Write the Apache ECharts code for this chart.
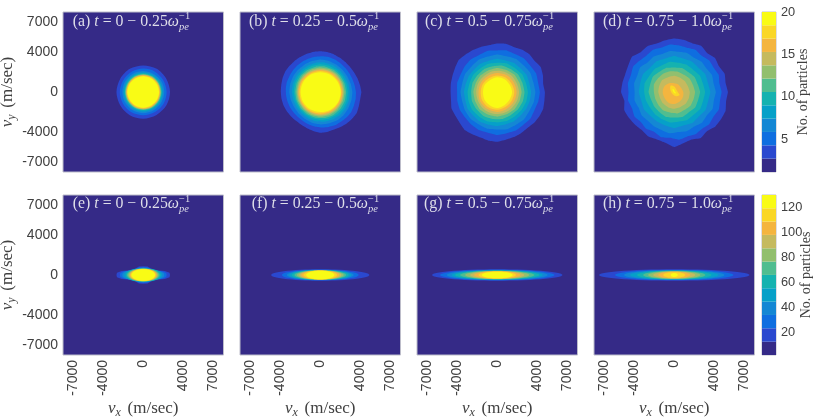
<!DOCTYPE html>
<html><head><meta charset="utf-8">
<style>html,body{margin:0;padding:0;background:#fff}#c{width:814px;height:417px}</style>
<script src="https://cdn.jsdelivr.net/npm/echarts@6/dist/echarts.min.js"></script>
</head><body><div id="c"></div>
<script>
// Tick labels
const velocityTicks = [-7000,-4000,0,4000,7000];
const topBarTicks = [5,10,15,20];
const bottomBarTicks = [20,40,60,80,100,120];
// Panel captions
const captions = [['(a)','0 − 0.25'],['(b)','0.25 − 0.5'],['(c)','0.5 − 0.75'],['(d)','0.75 − 1.0'],
                  ['(e)','0 − 0.25'],['(f)','0.25 − 0.5'],['(g)','0.5 − 0.75'],['(h)','0.75 − 1.0']];
// Colour levels
const parula12 = ['#352a87','#2a48cf','#0f6ee0','#1487d4','#06a0c8','#15b2b0','#50bd90','#92bf6e','#c5ba5e','#f4b53f','#fad726','#f9fb15'];
const topBarEdges = [1.1,2.68,4.25,5.83,7.4,8.98,10.55,12.13,13.7,15.28,16.85,18.43,20];
const bottomBarEdges = [1.5,12.2,23,33.7,44.4,55.2,65.9,76.6,87.3,98.1,108.8,119.5,130.2];

// Top row: radius (m/s) of each contour level, read at evenly spaced angles counter-clockwise from +vx
const contoursA = [
 [2670,2650,2680,2660,2680,2650,2670,2660,2680,2670,2650,2670],
 [2330,2320,2350,2340,2330,2320,2340,2330,2350,2330,2320,2340],
 [2100,2110,2090,2100,2120,2100,2090,2110,2100,2120,2100,2090],
 [1970,1960,1980,1970,1960,1970,1980,1960,1970,1980,1970,1960],
 [1870,1880,1860,1870,1880,1870,1860,1880,1870,1860,1870,1880],
 [1800,1790,1810,1800,1790,1800,1810,1790,1800,1810,1800,1790],
 [1750,1740,1750,1760,1750,1740,1750,1760,1750,1740,1750,1760],
 [1700,1710,1700,1690,1700,1710,1700,1690,1700,1710,1700,1690],
 [1660,1650,1660,1670,1660,1650,1660,1670,1660,1650,1660,1670],
 [1620,1630,1620,1610,1620,1630,1620,1610,1620,1630,1620,1610],
 [1570,1560,1570,1580,1560,1570,1580,1560,1570,1580,1560,1570]
];
const contoursB = [
 [4100,4020,3960,3900,3880,3900,3950,4000,4050,4070,4070,4050,4030,4020,4030,4040,4000,3950,3930,3920,3900,3850,3800,3760,3780,3850,3950,4070,4050,4000,4040,4100,4150,4200,4100,4050],
 [3560,3500,3460,3450,3470,3500,3560,3600,3580,3560,3540,3520,3500,3480,3460,3480,3450,3420,3400,3380,3350,3340,3380,3450,3520,3560,3600,3640,3620,3650,3680,3620,3600],
 [3200,3150,3120,3140,3180,3220,3240,3200,3160,3140,3120,3100,3080,3040,3020,3050,3100,3180,3240,3260,3300,3280,3240,3220],
 [2950,2920,2900,2930,2970,2990,2960,2920,2890,2880,2860,2830,2810,2800,2840,2900,2960,3000,3020,3040,3010,2980],
 [2750,2720,2710,2740,2770,2770,2730,2700,2680,2670,2640,2620,2630,2680,2730,2780,2800,2820,2810,2780],
 [2580,2560,2570,2590,2600,2570,2540,2530,2510,2490,2500,2530,2570,2620,2640,2650,2620,2600],
 [2430,2420,2430,2450,2440,2410,2400,2380,2360,2380,2400,2450,2480,2480,2460,2440],
 [2300,2300,2320,2320,2290,2280,2270,2250,2270,2310,2340,2350,2340,2310],
 [2210,2200,2220,2210,2190,2180,2170,2180,2210,2240,2250,2230],
 [2110,2110,2120,2110,2090,2080,2080,2100,2130,2150,2150,2120],
 [2040,2010,2000,1980,1980,1970,1960,1980,1990,2000,2040,2050]
];
const contoursC = [
 [4750,4650,4850,5000,4850,4950,4900,4800,4900,4850,4750,4800,4850,4900,5000,4850,4750,4700,4650,4680,4850,4800,4850,5000,4900,4850,4950,4980,4850,4800,4750,4700,4800,4850,4880,4780],
 [4250,4180,4300,4220,4280,4180,4260,4150,4230,4120,4200,4140,4050,4100,4000,4080,4130,4090,4160,4220,4170,4290,4220,4270,4180,4240,4130,4200],
 [3800,3730,3820,3740,3800,3700,3760,3670,3720,3620,3680,3600,3660,3620,3710,3770,3720,3810,3760,3850,3780,3820,3720,3780],
 [3380,3320,3390,3320,3360,3270,3320,3240,3280,3210,3260,3240,3320,3290,3400,3360,3430,3380,3400,3330,3370,3300,3340,3360],
 [3060,3000,3050,2980,3020,2930,2970,2900,2950,2900,2960,3000,3080,3050,3110,3040,3060,3000,3020,3050],
 [2720,2670,2720,2650,2680,2610,2640,2590,2630,2600,2680,2690,2760,2730,2750,2680,2700,2720],
 [2430,2400,2440,2380,2390,2340,2360,2320,2380,2390,2460,2440,2470,2420,2440,2410],
 [2170,2120,2170,2140,2130,2070,2090,2100,2110,2180,2200,2210,2170,2160],
 [1930,1900,1920,1890,1850,1870,1870,1950,1970,1990,1930,1920],
 [1700,1650,1680,1650,1610,1640,1650,1720,1770,1780,1700,1680],
 [1480,1430,1470,1480,1400,1440,1420,1480,1520,1600,1500,1450]
];
const contoursD = [
 [5350,5200,5350,5150,5300,5100,5350,5200,5300,5350,5250,5150,5300,5200,5500,5300,5200,5250,5300,5050,5300,5200,5100,5000,5150,5050,5150,5500,5200,5050,5300,5100,5350,5400,5450,5250],
 [4720,4580,4750,4620,4700,4540,4720,4600,4690,4780,4620,4720,4580,4660,4820,4640,4700,4560,4680,4520,4660,4480,4620,4460,4700,4600,4790,4640,4730,4600,4740,4630,4780,4640],
 [4150,4020,4130,3980,4080,3960,4110,4050,4130,3990,4090,3970,4200,4030,4090,3950,4040,3880,4000,3900,3990,4010,4150,4020,4120,3990,4140,4010,4180,4040],
 [3600,3480,3570,3420,3520,3460,3600,3470,3540,3420,3580,3510,3530,3400,3480,3360,3420,3480,3610,3480,3590,3470,3610,3500],
 [3080,2980,3040,2920,2990,2950,3060,2940,3020,2970,3080,3000,2950,2880,2930,2980,3080,3000,3090,2990,3090,3010],
 [2580,2470,2520,2430,2520,2460,2540,2500,2620,2520,2560,2440,2460,2500,2620,2550,2620,2500,2600,2510],
 [2080,2000,2040,1980,2060,2100,2140,2120,2160,2030,2010,2050,2140,2100,2170,2060,2120,2060],
 [1550,1480,1510,1540,1620,1600,1700,1620,1590,1540,1600,1640,1680,1620,1640,1580],
 [900,800,850,870,1000,1130,1150,1130,1200,1200,1100,1000],
 [350,300,350,550,730,450,300,270,280,350,500,620],
 [80,60,80,200,330,150,80,70,70,100,180,220]
];

// Bottom row: [half width, half height] (m/s) of each contour level, or its first-quadrant outline
const contoursE = [
 [[2670,0],[2620,220],[2150,400],[1250,470],[850,600],[430,840],[0,880]],
 [[2340,0],[2280,200],[1900,380],[1200,450],[800,570],[420,760],[0,790]],
 [[2100,0],[2040,190],[1700,370],[1150,480],[700,600],[0,720]],
 [1900,680],[1750,660],[1620,640],[1500,630],[1400,620],[1320,610],[1250,600],[1170,580]
];
const contoursF = [[4900,570],[3830,530],[3330,510],[3100,495],[2830,480],[2570,470],[2330,460],[2100,450],[1900,445],[1670,440],[1400,430]];
const contoursG = [[6500,570],[5700,520],[5030,490],[4530,465],[4200,440],[3700,420],[3200,400],[2700,385],[2300,370],[1870,350],[1530,330]];
const contoursH = [[7500,570],[5900,510],[5000,480],[4400,450],[3700,425],[3100,400],[2600,375],[2100,350],[1600,320],[1100,280],[350,200]];

const panels = [contoursA, contoursB, contoursC, contoursD, contoursE, contoursF, contoursG, contoursH];
const panelLefts = [63,240,417,594];
const panelTops = [12,195];
const panelSize = 160.5;
const sansFont = '"Liberation Sans", Arial, sans-serif';
const serifFont = '"Liberation Serif", serif';
const textGrey = '#404040';
const frame = '#bdbdca';

function ringPoints(row){
  if (typeof row[0]==='number' && row.length>2) {
    return row.map((r,i)=>{const a=i/row.length*2*Math.PI;return [r*Math.cos(a),r*Math.sin(a)];});
  }
  if (typeof row[0]==='number') {
    const pts=[];
    for(let i=0;i<60;i++){const a=i/60*2*Math.PI;pts.push([row[0]*Math.cos(a),row[1]*Math.sin(a)]);}
    return pts;
  }
  const q=row, pts=[];
  q.forEach(p=>pts.push([p[0],p[1]]));
  q.slice(0,-1).reverse().forEach(p=>pts.push([-p[0],p[1]]));
  q.slice(1).forEach(p=>pts.push([-p[0],-p[1]]));
  q.slice(1,-1).reverse().forEach(p=>pts.push([p[0],-p[1]]));
  return pts;
}

const grid=[],xAxis=[],yAxis=[],series=[],graphic=[];
const labelStyle={fontFamily:sansFont,color:textGrey,fontSize:14,formatter:v=>String(v)};
const mathRich={
  v:{fontFamily:serifFont,fontStyle:'italic',fontSize:17,color:textGrey,lineHeight:22},
  s:{fontFamily:serifFont,fontStyle:'italic',fontSize:12,color:textGrey,lineHeight:22,verticalAlign:'bottom'},
  u:{fontFamily:serifFont,fontSize:17,color:textGrey,lineHeight:22}
};
panels.forEach((levels,idx)=>{
  const col=idx%4,row=Math.floor(idx/4);
  grid.push({left:panelLefts[col],top:panelTops[row],width:panelSize,height:160,show:true,
    backgroundColor:parula12[0],borderColor:frame,borderWidth:1,containLabel:false,outerBoundsMode:'none'});
  xAxis.push({type:'value',gridIndex:idx,min:-8000,max:8000,
    name:row===1?'{v|v}{s|x}  {u|(m/sec)}':'',nameLocation:'middle',nameGap:42,
    nameTextStyle:{rich:mathRich,color:textGrey},
    axisLine:{show:false},axisTick:{show:false},splitLine:{show:false},
    axisLabel:{show:row===1,rotate:90,margin:5,customValues:velocityTicks,...labelStyle}});
  yAxis.push({type:'value',gridIndex:idx,min:-8000,max:8000,
    name:col===0?'{v|v}{s|y}  {u|(m/sec)}':'',nameLocation:'middle',nameGap:42,nameRotate:90,
    nameTextStyle:{rich:mathRich,color:textGrey},
    axisLine:{show:false},axisTick:{show:false},splitLine:{show:false},
    axisLabel:{show:col===0,margin:5,customValues:velocityTicks,...labelStyle}});
  series.push({type:'custom',xAxisIndex:idx,yAxisIndex:idx,clip:true,silent:true,
    encode:{x:0,y:1},data:levels.map((_,k)=>[0,0,k]),
    renderItem:(params,api)=>{
      const k=api.value(2);
      const pts=ringPoints(levels[k]).map(p=>api.coord(p));
      const smooth=(Array.isArray(levels[k][0])||levels[k].length<=2)?0:(levels[k].length>14?0.12:0.3);
      return {type:'polygon',shape:{points:pts,smooth:smooth},
        style:{fill:parula12[k+1],stroke:null}};
    }});
  const omegaEnd=panelLefts[col]+[116,128,126,128][col];
  const y=panelTops[row]+(row===0?9.5:9);
  const cap=captions[idx];
  const white='#dedee9';
  graphic.push({type:'text',silent:true,x:omegaEnd,y:y,style:{
    text:'{n|'+cap[0]+' }{i|t}{n| = '+cap[1]+'}{i|ω}',align:'right',verticalAlign:'middle',
    rich:{n:{fontFamily:serifFont,fontSize:15.8,fill:white},i:{fontFamily:serifFont,fontStyle:'italic',fontSize:15.8,fill:white}}}});
  graphic.push({type:'text',silent:true,x:omegaEnd,y:y-5,style:{text:'−1',align:'left',verticalAlign:'middle',
    fontFamily:serifFont,fontSize:10.5,fill:white}});
  graphic.push({type:'text',silent:true,x:omegaEnd,y:y+5.5,style:{text:'pe',align:'left',verticalAlign:'middle',
    fontFamily:serifFont,fontStyle:'italic',fontSize:10.5,fill:white}});
});

[[topBarEdges,topBarTicks,0],[bottomBarEdges,bottomBarTicks,1]].forEach(([edges,ticks,row])=>{
  const g=grid.length;
  grid.push({left:762,top:panelTops[row],width:14,height:160,show:true,borderColor:frame,borderWidth:1,backgroundColor:'#fff',outerBoundsMode:'none'});
  xAxis.push({type:'value',gridIndex:g,min:0,max:1,axisLine:{show:false},axisTick:{show:false},splitLine:{show:false},axisLabel:{show:false}});
  yAxis.push({type:'value',gridIndex:g,position:'right',min:edges[0],max:edges[edges.length-1],
    name:'No. of particles',nameLocation:'middle',nameRotate:90,nameGap:row===0?20:23,nameMoveOverlap:false,
    nameTextStyle:{fontFamily:serifFont,fontSize:14,color:textGrey,padding:row===0?0:[0,0,6,0]},
    axisLine:{show:false},axisTick:{show:false},splitLine:{show:false},
    axisLabel:{margin:5,customValues:ticks,fontFamily:sansFont,fontSize:12.8,color:textGrey}});
  series.push({type:'custom',xAxisIndex:g,yAxisIndex:g,silent:true,encode:{x:0,y:1},
    data:parula12.map((_,k)=>[0,edges[k],edges[k+1],k]),
    renderItem:(params,api)=>{
      const a=api.coord([0,api.value(1)]),b=api.coord([1,api.value(2)]);
      return {type:'rect',shape:{x:a[0],y:b[1],width:b[0]-a[0],height:a[1]-b[1]},
        style:{fill:parula12[api.value(3)],stroke:null}};
    }});
});

const chart=echarts.init(document.getElementById('c'),null,{renderer:'canvas'});
chart.setOption({animation:false,backgroundColor:'#fff',grid,xAxis,yAxis,series,graphic});
</script></body></html>
